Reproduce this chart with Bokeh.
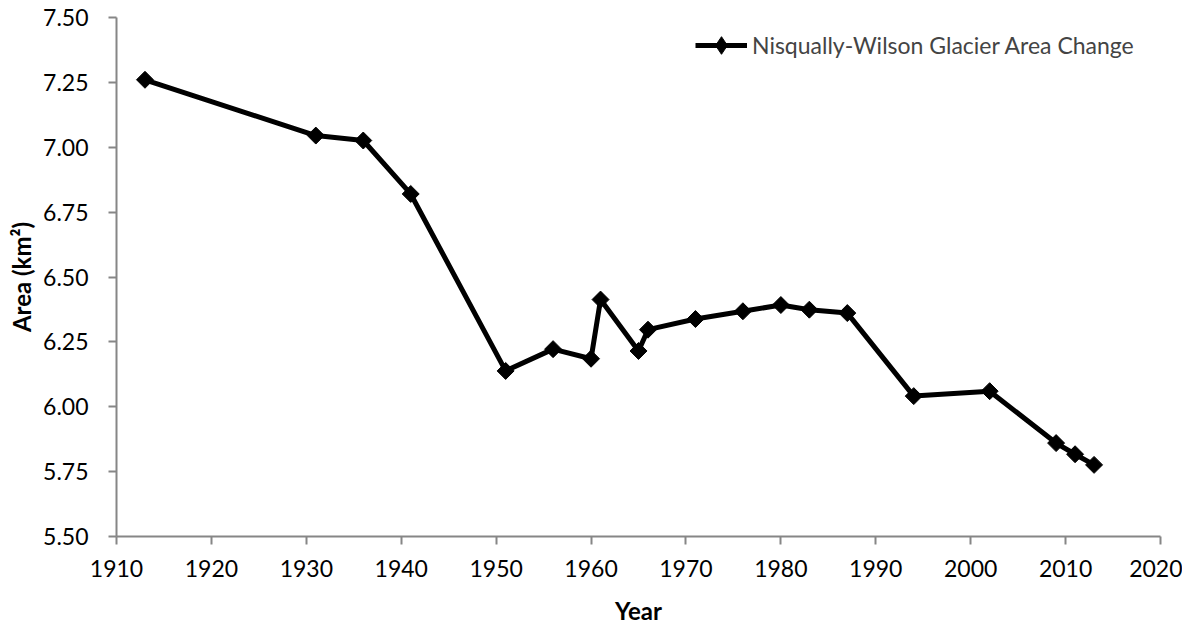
import numpy as np
from bokeh.plotting import figure
from bokeh.models import ColumnDataSource, Legend, LegendItem, FixedTicker, NumeralTickFormatter, Range1d
from bokeh.embed import file_html
from bokeh.resources import INLINE

# Data
years = [1913, 1931, 1936, 1941, 1951, 1956, 1960, 1961, 1965, 1966,
         1971, 1976, 1980, 1983, 1987, 1994, 2002, 2009, 2011, 2013]
area = [7.260, 7.045, 7.026, 6.820, 6.138, 6.222, 6.185, 6.413, 6.215, 6.297,
        6.338, 6.368, 6.392, 6.374, 6.361, 6.041, 6.060, 5.860, 5.817, 5.776]
x_ticks = [1910, 1920, 1930, 1940, 1950, 1960, 1970, 1980, 1990, 2000, 2010, 2020]
y_ticks = [5.50, 5.75, 6.00, 6.25, 6.50, 6.75, 7.00, 7.25, 7.50]
series_name = "Nisqually-Wilson Glacier Area Change"

FONT = "Lato"
src = ColumnDataSource(data=dict(year=years, area=area))

p = figure(width=1182, height=627, output_backend="svg", toolbar_location=None,
           x_range=Range1d(x_ticks[0], x_ticks[-1]), y_range=Range1d(y_ticks[0], y_ticks[-1]),
           min_border_left=116, min_border_right=22, min_border_top=17, min_border_bottom=88)
p.outline_line_color = None
p.xgrid.grid_line_color = None
p.ygrid.grid_line_color = None

ln = p.line("year", "area", source=src, line_color="black", line_width=5)
mk = p.scatter("year", "area", source=src, marker="square", angle=np.pi / 4, size=12,
               fill_color="black", line_color="black")
# legend-only glyph (diamond shape in legend), hidden on the plot
mk_leg = p.scatter("year", "area", source=src, marker="diamond", size=12,
                   fill_color="black", line_color="black", visible=False)

for ax in (p.xaxis[0], p.yaxis[0]):
    ax.axis_line_color = "#868686"
    ax.axis_line_width = 2
    ax.major_tick_line_color = "#868686"
    ax.major_tick_line_width = 2
    ax.major_tick_out = 8
    ax.major_tick_in = 0
    ax.minor_tick_line_color = None
    ax.major_label_text_font = FONT
    ax.major_label_text_font_size = "23px"
    ax.major_label_text_color = "black"
    ax.axis_label_text_font = FONT
    ax.axis_label_text_font_size = "24px"
    ax.axis_label_text_font_style = "bold"
    ax.axis_label_text_color = "black"

p.xaxis.ticker = FixedTicker(ticks=x_ticks)
p.yaxis.ticker = FixedTicker(ticks=y_ticks)
p.yaxis.formatter = NumeralTickFormatter(format="0.00")
p.xaxis.axis_label = "Year"
p.yaxis.axis_label = "Area (km²)"
p.xaxis.major_label_standoff = 15
p.yaxis.major_label_standoff = 20
p.xaxis.axis_label_standoff = 16
p.yaxis.axis_label_standoff = 4

legend = Legend(items=[LegendItem(label=series_name, renderers=[ln, mk_leg])],
                location=(573, 463), margin=0, padding=6,
                glyph_width=52, glyph_height=44, label_standoff=5,
                label_text_font=FONT, label_text_font_size="23px",
                border_line_alpha=0, background_fill_alpha=0)
p.add_layout(legend)

open("out.html", "w").write(file_html(p, INLINE))
